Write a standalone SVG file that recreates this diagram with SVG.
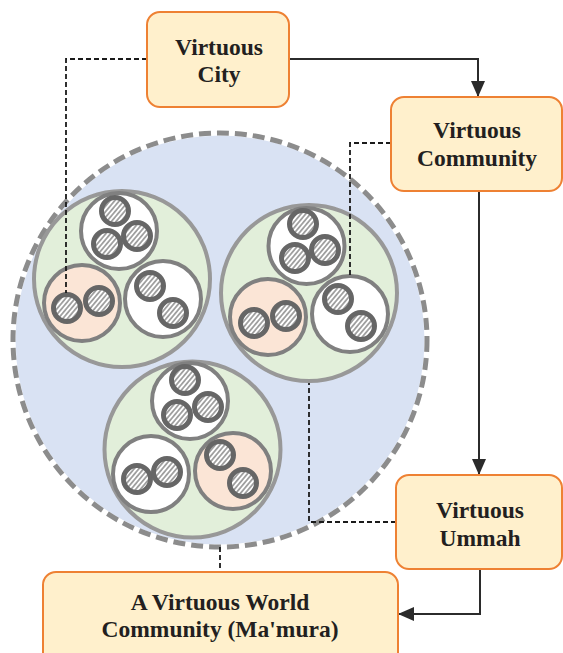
<svg xmlns="http://www.w3.org/2000/svg" width="563" height="653" viewBox="0 0 563 653">
<defs>
<pattern id="hatch" patternUnits="userSpaceOnUse" width="3.6" height="3.6" patternTransform="rotate(40)">
<rect width="3.6" height="3.6" fill="#ffffff"/>
<line x1="0.9" y1="0" x2="0.9" y2="3.6" stroke="#858585" stroke-width="1.4"/>
</pattern>
<marker id="arrow" viewBox="0 0 16 14" refX="15" refY="7" markerWidth="16" markerHeight="14" markerUnits="userSpaceOnUse" orient="auto">
<path d="M0,0 L16,7 L0,14 Z" fill="#2b2b2b"/>
</marker>
<style>
.box{fill:#FFF0CC;stroke:#EE8133;stroke-width:2}
.lbl{font-family:"Liberation Serif","Times New Roman",serif;font-weight:bold;font-size:23.5px;fill:#231F20;text-anchor:middle}
.grp{fill:#E2EFDA;stroke:#989898;stroke-width:4}
.wh{fill:#ffffff;stroke:#808080;stroke-width:4}
.pk{fill:#FBE5D6;stroke:#808080;stroke-width:4}
.sm{fill:url(#hatch);stroke:#666666;stroke-width:5}
.solid{fill:none;stroke:#2b2b2b;stroke-width:2}
.dash{fill:none;stroke:#1a1a1a;stroke-width:1.8;stroke-dasharray:5 3}
</style>
</defs>
<rect width="563" height="653" fill="#ffffff"/>

<g id="realm">
<circle cx="220" cy="340" r="207" fill="#D9E2F3" stroke="#ffffff" stroke-width="5"/>
<circle cx="220" cy="340" r="207" fill="none" stroke="#8C8C8C" stroke-width="5" stroke-dasharray="12 6"/>

<g id="cluster-left">
<circle class="grp" cx="122" cy="279" r="88"/>
<circle class="wh" cx="119" cy="231" r="38"/>
<circle class="sm" cx="115" cy="211" r="13.5"/>
<circle class="sm" cx="107" cy="244" r="13.5"/>
<circle class="sm" cx="137" cy="236" r="13.5"/>
<circle class="pk" cx="82" cy="303" r="38"/>
<circle class="sm" cx="67" cy="308" r="13.5"/>
<circle class="sm" cx="99" cy="301" r="13.5"/>
<circle class="wh" cx="163" cy="299" r="38"/>
<circle class="sm" cx="150" cy="286" r="13.5"/>
<circle class="sm" cx="173" cy="313" r="13.5"/>
</g>

<g id="cluster-right">
<circle class="grp" cx="309" cy="293" r="88"/>
<circle class="wh" cx="306.5" cy="246" r="38"/>
<circle class="sm" cx="303" cy="224" r="13.5"/>
<circle class="sm" cx="295" cy="258" r="13.5"/>
<circle class="sm" cx="325" cy="250" r="13.5"/>
<circle class="pk" cx="268" cy="317" r="38"/>
<circle class="sm" cx="254" cy="323" r="13.5"/>
<circle class="sm" cx="286" cy="316" r="13.5"/>
<circle class="wh" cx="350" cy="314" r="38"/>
<circle class="sm" cx="338" cy="299" r="13.5"/>
<circle class="sm" cx="361" cy="326" r="13.5"/>
</g>

<g id="cluster-bottom">
<circle class="grp" cx="192.5" cy="449.5" r="88"/>
<circle class="wh" cx="190" cy="401" r="38"/>
<circle class="sm" cx="185" cy="380" r="13.5"/>
<circle class="sm" cx="177" cy="415" r="13.5"/>
<circle class="sm" cx="208" cy="407" r="13.5"/>
<circle class="wh" cx="151" cy="474" r="38"/>
<circle class="sm" cx="137" cy="479" r="13.5"/>
<circle class="sm" cx="167" cy="472" r="13.5"/>
<circle class="pk" cx="233" cy="471" r="38"/>
<circle class="sm" cx="220" cy="455" r="13.5"/>
<circle class="sm" cx="243" cy="483" r="13.5"/>
</g>
</g>

<g id="connectors">
<path class="solid" d="M289,59 H478 V96" marker-end="url(#arrow)"/>
<path class="solid" d="M479,191 V474" marker-end="url(#arrow)"/>
<path class="solid" d="M480,569 V614 H399" marker-end="url(#arrow)"/>
<path class="dash" d="M147,59 H66 V293"/>
<path class="dash" d="M391,143 H350 V276"/>
<path class="dash" d="M396,522 H309 V383"/>
<path class="dash" d="M220,547 V572"/>
</g>

<g id="virtuous-city">
<rect class="box" x="147" y="12" width="142" height="95" rx="13"/>
<text class="lbl" x="219" y="55">Virtuous</text>
<text class="lbl" x="219" y="82">City</text>
</g>

<g id="virtuous-community">
<rect class="box" x="391" y="97" width="171" height="94" rx="13"/>
<text class="lbl" x="477" y="138">Virtuous</text>
<text class="lbl" x="477" y="166">Community</text>
</g>

<g id="virtuous-ummah">
<rect class="box" x="396" y="475" width="166" height="94" rx="13"/>
<text class="lbl" x="480" y="518">Virtuous</text>
<text class="lbl" x="480" y="546">Ummah</text>
</g>

<g id="world-community">
<rect class="box" x="43" y="572" width="355" height="100" rx="13"/>
<text class="lbl" x="220" y="610">A Virtuous World</text>
<text class="lbl" x="220" y="637">Community (Ma'mura)</text>
</g>
</svg>
